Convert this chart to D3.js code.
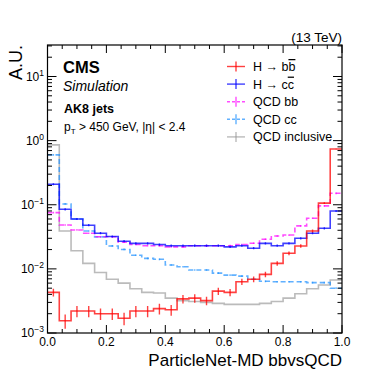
<!DOCTYPE html>
<html>
<head>
<meta charset="utf-8">
<script src="https://cdn.jsdelivr.net/npm/d3@7"></script>
<style>
  body { margin: 0; background: #fff; }
  svg text { font-family: "Liberation Sans", Arial, Helvetica, sans-serif; }
</style>
</head>
<body>
<div id="chart"></div>
<script>
// bin edges: 25 bins of width 0.04 on [0, 1]
var binEdges = d3.range(26).map(function(i) { return +(i * 0.04).toFixed(2); });

// H -> bb
var hbb = [0.0043, 0.00155, 0.0022, 0.0022, 0.0020, 0.0020, 0.0017, 0.0022, 0.0022, 0.0024,
           0.0023, 0.0034, 0.0035, 0.0032, 0.0045, 0.0043, 0.0063, 0.0069, 0.0082, 0.0122,
           0.0175, 0.0228, 0.039, 0.106, 0.74];
var hbbErr = [0.14, 0.25, 0.2, 0.2, 0.2, 0.2, 0.22, 0.2, 0.2, 0.19,
              0.19, 0.15, 0.15, 0.15, 0.13, 0.13, 0.11, 0.1, 0.1, 0.08,
              0.07, 0.06, 0.05, 0.03, 0.01];
// H -> cc
var hcc = [0.209, 0.085, 0.060, 0.048, 0.036, 0.032, 0.027, 0.025, 0.025, 0.024,
           0.023, 0.023, 0.023, 0.023, 0.023, 0.022, 0.023, 0.021, 0.025, 0.023,
           0.025, 0.030, 0.036, 0.043, 0.080];
// QCD bb
var qcdbb = [0.0754, 0.0484, 0.0405, 0.036, 0.0317, 0.0317, 0.026, 0.024, 0.023, 0.023,
             0.022, 0.022, 0.023, 0.023, 0.023, 0.023, 0.024, 0.0251, 0.029, 0.0326,
             0.0337, 0.0468, 0.0617, 0.096, 0.151];
// QCD cc
var qcdcc = [0.60, 0.103, 0.060, 0.039, 0.0315, 0.0228, 0.0201, 0.0163, 0.0146, 0.0141,
             0.0115, 0.0108, 0.0096, 0.0096, 0.0086, 0.0080, 0.0077, 0.0069, 0.0064, 0.0063,
             0.0063, 0.0063, 0.0061, 0.0061, 0.0050];
// QCD inclusive
var qcdInc = [0.86, 0.039, 0.0192, 0.0122, 0.0088, 0.0069, 0.0060, 0.0049, 0.0043, 0.0042,
              0.0035, 0.0032, 0.0031, 0.0030, 0.0029, 0.0028, 0.0028, 0.0028, 0.0029, 0.0031,
              0.0035, 0.0041, 0.0049, 0.0056, 0.0067];

var xTicks = [0, 0.2, 0.4, 0.6, 0.8, 1.0];
var yTicks = [1e-3, 1e-2, 1e-1, 1, 10];
var yExp = ["\u22123", "\u22122", "\u22121", "0", "1"];

var series = [
  { name: "hbb", values: hbb, err: hbbErr, color: "rgba(255,0,0,0.75)", dash: null },
  { name: "hcc", values: hcc, err: 0.04, color: "rgba(0,0,255,0.75)", dash: null },
  { name: "qcdbb", values: qcdbb, err: 0.03, color: "rgba(255,0,255,0.7)", dash: "5,3" },
  { name: "qcdcc", values: qcdcc, err: 0.03, color: "rgba(30,144,255,0.7)", dash: "5,3" },
  { name: "qcdinc", values: qcdInc, err: 0, color: "rgba(150,150,150,0.65)", dash: null }
];
var drawOrder = [4, 3, 2, 1, 0];

var width = 381, height = 381;
var pL = 47.5, pR = 342, pT = 45, pB = 333;

var svg = d3.select("#chart").append("svg")
    .attr("width", width)
    .attr("height", height);

var x = d3.scaleLinear().domain([0, 1]).range([pL, pR]);
var y = d3.scaleLog().domain([1e-3, 31]).range([pB, pT]);

svg.append("clipPath").attr("id", "clip")
  .append("rect").attr("x", pL).attr("y", pT)
  .attr("width", pR - pL).attr("height", pB - pT);

var plot = svg.append("g").attr("clip-path", "url(#clip)");

// step histograms
drawOrder.forEach(function(si) {
  var s = series[si];
  var pts = [];
  s.values.forEach(function(v, i) {
    pts.push([x(binEdges[i]), y(v)]);
    pts.push([x(binEdges[i + 1]), y(v)]);
  });
  plot.append("path")
    .attr("d", d3.line()(pts))
    .attr("fill", "none")
    .attr("stroke", s.color)
    .attr("stroke-width", 1.6)
    .attr("stroke-dasharray", s.dash);

  // error bars
  if (s.err) {
    s.values.forEach(function(v, i) {
      var e = Array.isArray(s.err) ? s.err[i] : s.err;
      var xc = x((binEdges[i] + binEdges[i + 1]) / 2);
      plot.append("line")
        .attr("x1", xc).attr("x2", xc)
        .attr("y1", y(v * (1 + e))).attr("y2", y(Math.max(v * (1 - e), 1e-4)))
        .attr("stroke", s.color)
        .attr("stroke-width", 1.4);
    });
  }
});

// frame
svg.append("rect")
  .attr("x", pL).attr("y", pT)
  .attr("width", pR - pL).attr("height", pB - pT)
  .attr("fill", "none").attr("stroke", "#000").attr("stroke-width", 1.2);

// x ticks (inside, bottom and top)
var xMinor = d3.range(0, 1.0001, 0.05);
var axes = svg.append("g").attr("stroke", "#000").attr("stroke-width", 1);
xMinor.forEach(function(t) {
  var major = Math.abs(t * 5 - Math.round(t * 5)) < 1e-6;
  var len = major ? 8 : 4;
  axes.append("line").attr("x1", x(t)).attr("x2", x(t)).attr("y1", pB).attr("y2", pB - len);
  axes.append("line").attr("x1", x(t)).attr("x2", x(t)).attr("y1", pT).attr("y2", pT + len);
});

// y ticks (log, inside, left and right)
var yAll = [];
[-3, -2, -1, 0, 1].forEach(function(p) {
  d3.range(1, 10).forEach(function(m) {
    var v = m * Math.pow(10, p);
    if (v <= 31) yAll.push({ v: v, major: m === 1 });
  });
});
yAll.forEach(function(t) {
  var len = t.major ? 9 : 4.5;
  axes.append("line").attr("x1", pL).attr("x2", pL + len).attr("y1", y(t.v)).attr("y2", y(t.v));
  axes.append("line").attr("x1", pR).attr("x2", pR - len).attr("y1", y(t.v)).attr("y2", y(t.v));
});

// x tick labels
svg.selectAll(".xlab").data(xTicks).enter().append("text")
  .attr("x", function(d) { return x(d); })
  .attr("y", 346)
  .attr("text-anchor", "middle")
  .attr("font-size", 12)
  .text(function(d) { return d.toFixed(1); });

// y tick labels
yTicks.forEach(function(t, i) {
  var tx = svg.append("text")
    .attr("x", 44).attr("y", y(t) + 4)
    .attr("text-anchor", "end")
    .attr("font-size", 12);
  tx.append("tspan").text("10");
  tx.append("tspan").attr("dy", -5).attr("font-size", 8.5).text(yExp[i]);
});

// axis titles
svg.append("text")
  .attr("x", pR).attr("y", 366)
  .attr("text-anchor", "end")
  .attr("font-size", 17)
  .text("ParticleNet-MD bbvsQCD");

svg.append("text")
  .attr("transform", "translate(22," + pT + ") rotate(-90)")
  .attr("text-anchor", "end")
  .attr("font-size", 18)
  .text("A.U.");

svg.append("text")
  .attr("x", pR).attr("y", 42)
  .attr("text-anchor", "end")
  .attr("font-size", 13.5)
  .text("(13 TeV)");

// CMS labels
svg.append("text").attr("x", 63).attr("y", 73)
  .attr("font-size", 16.5).attr("font-weight", "bold").text("CMS");
svg.append("text").attr("x", 63).attr("y", 91)
  .attr("font-size", 14).attr("font-style", "italic").text("Simulation");
svg.append("text").attr("x", 64).attr("y", 113)
  .attr("font-size", 12.5).attr("font-weight", "bold").text("AK8 jets");
var pt = svg.append("text").attr("x", 64).attr("y", 131).attr("font-size", 12);
pt.append("tspan").text("p");
pt.append("tspan").attr("font-size", 8).attr("dy", 2.5).text("T");
pt.append("tspan").attr("dy", -2.5).text(" > 450 GeV, |\u03B7| < 2.4");

// legend
var legendRows = [
  { s: 0, parts: [["H \u2192 b", false], ["b", true]] },
  { s: 1, parts: [["H \u2192 c", false], ["c", true]] },
  { s: 2, parts: [["QCD bb", false]] },
  { s: 3, parts: [["QCD cc", false]] },
  { s: 4, parts: [["QCD inclusive", false]] }
];
var legend = svg.append("g");
legendRows.forEach(function(r, i) {
  var s = series[r.s];
  var cy = 66.5 + i * 17.6;
  legend.append("line").attr("x1", 227).attr("x2", 245).attr("y1", cy).attr("y2", cy)
    .attr("stroke", s.color).attr("stroke-width", 1.4).attr("stroke-dasharray", s.dash ? "3,2" : null);
  legend.append("line").attr("x1", 236).attr("x2", 236).attr("y1", cy - 5).attr("y2", cy + 5)
    .attr("stroke", s.color).attr("stroke-width", 1.4);
  var t = legend.append("text").attr("x", 253).attr("y", cy + 4.5).attr("font-size", 12.5);
  r.parts.forEach(function(p) {
    var ts = t.append("tspan").text(p[0]);
    if (p[1]) ts.style("text-decoration", "overline");
  });
});
</script>
</body>
</html>
